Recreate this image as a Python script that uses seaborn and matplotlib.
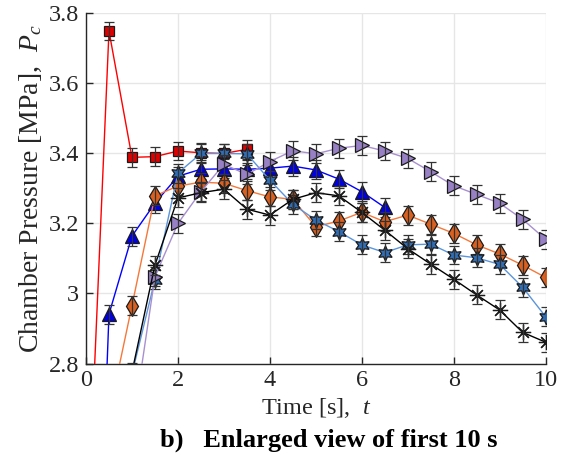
import numpy as np
import pandas as pd
import matplotlib
matplotlib.use("Agg")
import matplotlib.pyplot as plt
import seaborn as sns

sns.set_theme(style="white")
plt.rcParams['font.family'] = ['Liberation Serif', 'DejaVu Serif']
plt.rcParams['mathtext.fontset'] = 'custom'
plt.rcParams['mathtext.rm'] = 'Liberation Serif'
plt.rcParams['mathtext.it'] = 'Liberation Serif:italic'

# ---- data ----
t_red = [0.0, 0.5, 1.0, 1.5, 2.0, 2.5, 3.0, 3.5]
p_red = [2.22, 3.750, 3.389, 3.391, 3.407, 3.402, 3.400, 3.412]

t_blue = [0.0, 0.5, 1.0, 1.5, 2.0, 2.5, 3.0, 3.5, 4.0, 4.5, 5.0, 5.5, 6.0, 6.5]
p_blue = [1.20, 2.941, 3.164, 3.258, 3.335, 3.355, 3.356, 3.355, 3.358, 3.364,
          3.353, 3.327, 3.291, 3.246]

t_all = [0.5, 1.0, 1.5, 2.0, 2.5, 3.0, 3.5, 4.0, 4.5, 5.0, 5.5, 6.0, 6.5,
         7.0, 7.5, 8.0, 8.5, 9.0, 9.5, 10.0]
p_orange = [2.655, 2.965, 3.279, 3.307, 3.318, 3.315, 3.294, 3.276, 3.269, 3.191,
            3.207, 3.232, 3.205, 3.224, 3.198, 3.172, 3.139, 3.113, 3.081, 3.046]
p_star = [2.20, 2.770, 3.039, 3.344, 3.400, 3.400, 3.399, 3.324, 3.255, 3.210,
          3.177, 3.139, 3.117, 3.139, 3.141, 3.110, 3.102, 3.083, 3.018, 2.934]
p_purple = [2.10, 2.605, 3.048, 3.200, 3.291, 3.369, 3.340, 3.377, 3.408, 3.399,
            3.415, 3.423, 3.407, 3.386, 3.348, 3.308, 3.283, 3.258, 3.212, 3.155]
p_black = [2.20, 2.775, 3.081, 3.273, 3.288, 3.298, 3.241, 3.224, 3.269, 3.288,
           3.279, 3.232, 3.181, 3.128, 3.084, 3.041, 2.996, 2.953, 2.889, 2.861]
err = 0.027

x_ticks = [0, 2, 4, 6, 8, 10]
y_ticks = [2.8, 3.0, 3.2, 3.4, 3.6, 3.8]
y_ticklabels = ['2.8', '3', '3.2', '3.4', '3.6', '3.8']

series = [
    # t, p, line colour, face colour, marker, size
    (t_red, p_red, '#ff0000', '#e00000', 's', 7.5),
    (t_blue, p_blue, '#0000ff', '#0000e6', '^', 9.5),
    (t_all, p_orange, '#f5783a', '#d9601f', 'd', 10),
    (t_all, p_star, '#5b95dc', '#2f6db5', (6, 1, 0), 11),
    (t_all, p_purple, '#a890d0', '#9780c4', '>', 9.5),
    (t_all, p_black, '#000000', '#000000', (8, 2, 0), 11),
]

fig = plt.figure(figsize=(5.61, 4.62), dpi=100)
ax = fig.add_axes([0.1533, 0.2132, 0.8192, 0.7576])

for i, (t, p, lc, fc, mk, ms) in enumerate(series):
    df = pd.DataFrame({'t': t, 'P': p})
    sns.lineplot(data=df, x='t', y='P', ax=ax, color=lc, lw=1.0,
                 marker=mk, markersize=ms, markerfacecolor=fc,
                 markeredgecolor='k', markeredgewidth=0.9,
                 errorbar=None, zorder=3 + i)
    ax.errorbar(df['t'], df['P'], yerr=err, fmt='none', ecolor='#333333',
                elinewidth=0.9, capsize=3.4, capthick=0.9, zorder=3 + i + 0.5)

ax.set_xlim(0, 10)
ax.set_ylim(2.8, 3.8)
ax.set_xticks(x_ticks)
ax.set_yticks(y_ticks)
ax.set_yticklabels(y_ticklabels)
ax.grid(True, color='#e6e6e6', lw=1.0, zorder=0)
ax.set_axisbelow(True)
for s in ['top', 'right']:
    ax.spines[s].set_visible(False)
for s in ['left', 'bottom']:
    ax.spines[s].set_color('#262626')
    ax.spines[s].set_linewidth(1.0)
ax.tick_params(direction='in', length=5, width=1.0, colors='#262626',
               labelsize=17.5, labelcolor='#262626', left=True, bottom=True, pad=5)
ax.set_xlabel(r'Time [s],  $t$', fontsize=17.5, color='#262626', labelpad=3)
ax.set_ylabel(r'Chamber Pressure [MPa],  $P_c$', fontsize=20, color='#262626',
              labelpad=3)
fig.text(0.586, 0.048, 'b)   Enlarged view of first 10 s', ha='center',
         va='center', fontsize=19, fontweight='bold', color='black')

fig.savefig('out.png', dpi=100)
